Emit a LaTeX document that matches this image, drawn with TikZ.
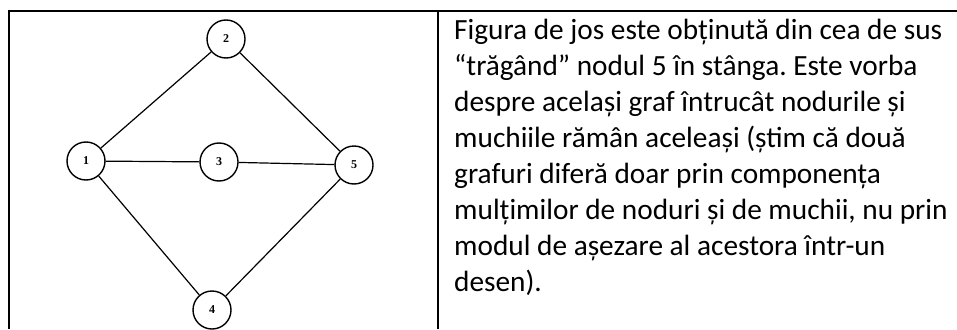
\documentclass[tikz,border=0pt]{standalone}
\usepackage{fontspec}
\setmainfont{Carlito}
\newfontfamily\knotenfont{Liberation Serif}
\usepackage{tikz}
\usetikzlibrary{positioning}
\frenchspacing
\tikzstyle{knoten} = [
    circle,
    draw,
    line width=1.4pt,
    minimum size=38pt,
    inner sep=0pt,
    font=\knotenfont\bfseries\fontsize{12}{12}\selectfont
]
\tikzstyle{kante} = [
    line width=1.2pt
]

\begin{document}
\begin{tikzpicture}[x=1pt, y=-1pt]
\useasboundingbox (0,0) rectangle (957,329);

% Tabellenrahmen
\draw[line width=2.5pt] (9,10) -- (9,329);
\draw[line width=2pt] (8,11) -- (957,11);
\draw[line width=2pt] (438,11) -- (438,329);

% Knoten
\node[knoten] (n2) at (226,39) {2};
\node[knoten] (n1) at (86,161) {1};
\node[knoten] (n3) at (219,162) {3};
\node[knoten] (n5) at (354,165) {5};
\node[knoten] (n4) at (212,310) {4};

% Kanten
\draw[kante] (n1) -- (n2);
\draw[kante] (n2) -- (n5);
\draw[kante] (n1) -- (n3);
\draw[kante] (n3) -- (n5);
\draw[kante] (n1) -- (n4);
\draw[kante] (n4) -- (n5);

% Text rechts
\node[anchor=north west, inner sep=0pt, align=left,
      font=\fontsize{29.3}{36}\selectfont] (text) at (454,19) {%
    Figura de jos este obținută din cea de sus\\
    “trăgând” nodul 5 în stânga. Este vorba\\
    despre același graf întrucât nodurile și\\
    muchiile rămân aceleași (știm că două\\
    grafuri diferă doar prin componența\\
    mulțimilor de noduri și de muchii, nu prin\\
    modul de așezare al acestora într-un\\
    desen).};

\end{tikzpicture}
\end{document}
